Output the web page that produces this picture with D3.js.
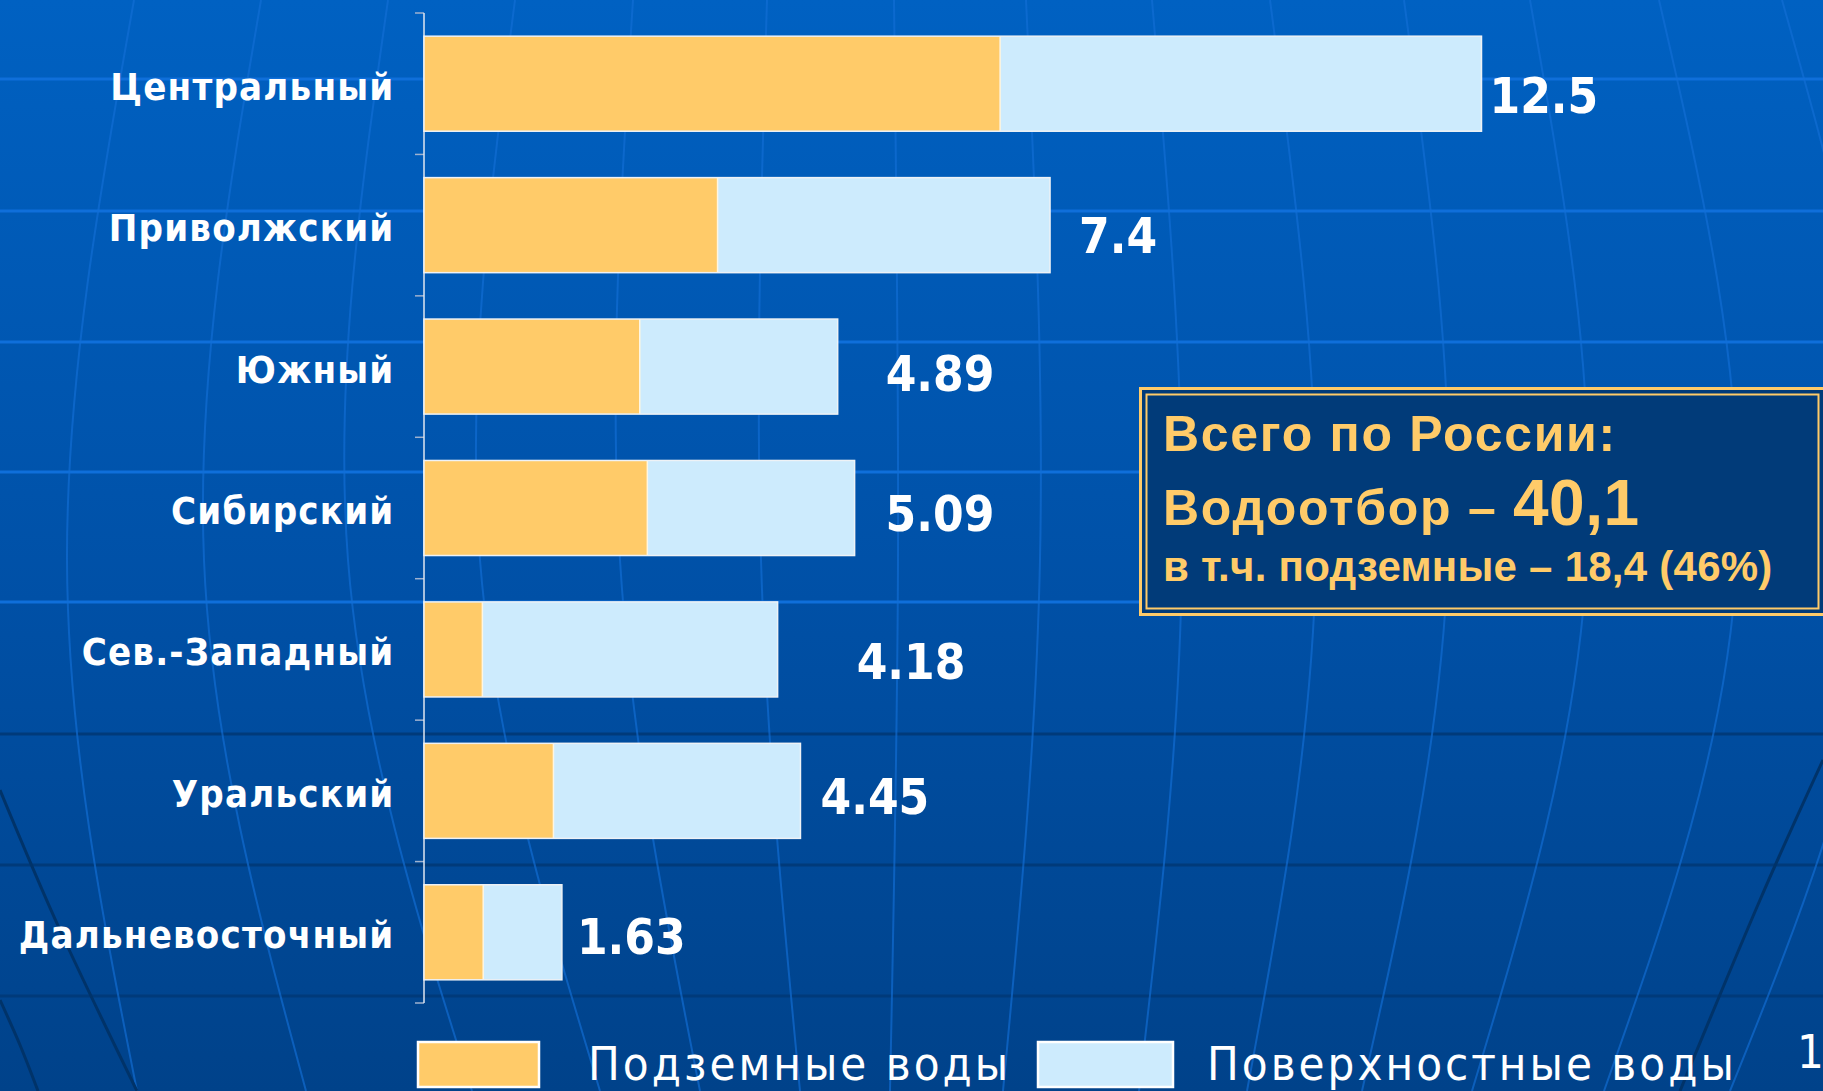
<!DOCTYPE html>
<html>
<head>
<meta charset="utf-8">
<script src="https://cdn.jsdelivr.net/npm/d3@7/dist/d3.min.js"></script>
<style>
  html, body { margin: 0; padding: 0; overflow: hidden; background: #0052a8; }
  svg { display: block; }
</style>
</head>
<body>
<svg id="chart" width="1823" height="1091"></svg>
<script>
// Water withdrawal by federal district, km³ per year
const regions = ["Центральный", "Приволжский", "Южный", "Сибирский", "Сев.-Западный", "Уральский", "Дальневосточный"];
const totalWithdrawal = [12.5, 7.4, 4.89, 5.09, 4.18, 4.45, 1.63];
const groundWater = [6.81, 3.47, 2.55, 2.64, 0.69, 1.53, 0.70];
const seriesNames = ["Подземные воды", "Поверхностные воды"];
const seriesColors = ["#ffcb69", "#cdebfd"];

// hand-placed value labels: shift from bar end (x) and from band centre (y)
const labelShiftX = [8, 29, 48, 31, 79, 20, 15];
const labelShiftY = [11, 10, 6, 5, 12, 5, 4];

const W = 1823, H = 1091;
const svg = d3.select("#chart");
const defs = svg.append("defs");

// ---- background: blue globe with parallels and meridians ----
const bg = defs.append("linearGradient").attr("id", "bg").attr("x1", 0).attr("y1", 0).attr("x2", 0).attr("y2", 1);
bg.append("stop").attr("offset", "0%").attr("stop-color", "#0061c2");
bg.append("stop").attr("offset", "55%").attr("stop-color", "#0050a6");
bg.append("stop").attr("offset", "100%").attr("stop-color", "#00428a");
svg.append("rect").attr("width", W).attr("height", H).attr("fill", "url(#bg)");

const deco = svg.append("g").attr("class", "globe");
const lightParallels = [79, 211, 342, 472, 602];
const darkParallels = [734, 865, 996];
deco.selectAll("line.lp").data(lightParallels).join("line")
  .attr("x1", 0).attr("x2", W).attr("y1", d => d).attr("y2", d => d)
  .attr("stroke", "#0f6fda").attr("stroke-width", 3);
deco.selectAll("line.dp").data(darkParallels).join("line")
  .attr("x1", 0).attr("x2", W).attr("y1", d => d).attr("y2", d => d)
  .attr("stroke", "#003a7a").attr("stroke-width", 3);

// meridians: x at top, at y=560 and at the bottom edge
const meridians = [
  [134, 67, 137], [261, 204, 306], [388, 348, 472], [515, 480, 600],
  [633, 620, 700], [767, 761, 800], [894, 898, 890], [1026, 1040, 1003],
  [1152, 1182, 1139], [1270, 1316, 1247], [1404, 1448, 1362], [1530, 1587, 1472],
  [1659, 1737, 1604], [1782, 1880, 1730]
];
const curve = d3.line().x(d => d[0]).y(d => d[1]).curve(d3.curveNatural);
deco.selectAll("path.mer").data(meridians).join("path")
  .attr("d", m => curve([[m[0], 0], [m[1], 560], [m[2], H]]))
  .attr("fill", "none").attr("stroke", "#126fd6").attr("stroke-width", 2).attr("stroke-opacity", 0.65);

// globe rim
const rims = [
  [[0, 790], [60, 930], [137, H]],
  [[0, 1000], [20, 1045], [38, H]],
  [[W, 760], [1760, 900], [1680, H]]
];
deco.selectAll("path.rim").data(rims).join("path")
  .attr("d", r => curve(r))
  .attr("fill", "none").attr("stroke", "#003369").attr("stroke-width", 3);

// ---- scales ----
const x = d3.scaleLinear().domain([0, 12.5]).range([424, 1481.5]);
const y = d3.scaleBand().domain(regions).range([13, 1003]).paddingInner(0.328).paddingOuter(0.164);

// ---- category axis ----
const axisG = svg.append("g").attr("transform", `translate(${x(0)},0)`);
const boundaries = d3.range(regions.length + 1).map(i => 13 + i * y.step());
axisG.selectAll("line.tick").data(boundaries).join("line")
  .attr("x1", -9).attr("x2", 0).attr("y1", d => d).attr("y2", d => d)
  .attr("stroke", "#9fb2cf").attr("stroke-width", 1.5);
axisG.append("line").attr("x1", 0).attr("x2", 0).attr("y1", 13).attr("y2", 1003)
  .attr("stroke", "#dfe6f0").attr("stroke-width", 1.5);

const sansCond = "'DejaVu Sans Condensed', 'DejaVu Sans', sans-serif";
svg.append("g").selectAll("text").data(regions).join("text")
  .attr("x", 394.5).attr("y", d => y(d) + y.bandwidth() / 2 + 16)
  .attr("text-anchor", "end")
  .attr("font-family", sansCond).attr("letter-spacing", 1.2)
  .attr("font-weight", "bold").attr("font-size", 38).attr("fill", "#ffffff")
  .text(d => d);

// ---- stacked bars ----
const rows = regions.map((r, i) => ({ region: r, ground: groundWater[i], total: totalWithdrawal[i], i }));
const barG = svg.append("g");
const row = barG.selectAll("g").data(rows).join("g");
row.append("rect")
  .attr("x", d => x(0)).attr("y", d => y(d.region))
  .attr("width", d => x(d.ground) - x(0)).attr("height", y.bandwidth())
  .attr("fill", seriesColors[0]);
row.append("rect")
  .attr("x", d => x(d.ground)).attr("y", d => y(d.region))
  .attr("width", d => x(d.total) - x(d.ground)).attr("height", y.bandwidth())
  .attr("fill", seriesColors[1]);
row.append("line")
  .attr("x1", d => x(d.ground)).attr("x2", d => x(d.ground))
  .attr("y1", d => y(d.region)).attr("y2", d => y(d.region) + y.bandwidth())
  .attr("stroke", "#fff6e0").attr("stroke-width", 1.5);
row.append("rect")
  .attr("x", d => x(0)).attr("y", d => y(d.region))
  .attr("width", d => x(d.total) - x(0)).attr("height", y.bandwidth())
  .attr("fill", "none").attr("stroke", "#eef2f6").attr("stroke-width", 1.5);

// value labels
row.append("text")
  .attr("x", d => x(d.total) + labelShiftX[d.i])
  .attr("y", d => y(d.region) + y.bandwidth() / 2 + labelShiftY[d.i] + 18)
  .attr("font-family", sansCond)
  .attr("font-weight", "bold").attr("font-size", 49).attr("fill", "#ffffff")
  .text(d => String(d.total));

// ---- summary box ----
const sumTotal = d3.sum(totalWithdrawal);
const sumGround = d3.sum(groundWater);
const comma = v => v.toFixed(1).replace(".", ",");
const box = svg.append("g");
box.append("rect").attr("x", 1140.5).attr("y", 388.5).attr("width", 690).attr("height", 226)
  .attr("fill", "#013b79").attr("stroke", "#ffcb69").attr("stroke-width", 3);
box.append("rect").attr("x", 1146.5).attr("y", 394.5).attr("width", 672).attr("height", 214)
  .attr("fill", "none").attr("stroke", "#ffcb69").attr("stroke-width", 2);
const boxFont = "'Liberation Sans', Arial, sans-serif";
box.append("text").attr("x", 1163).attr("y", 451)
  .attr("font-family", boxFont).attr("font-weight", "bold").attr("font-size", 50)
  .attr("letter-spacing", 1.7).attr("fill", "#ffcb69")
  .text("Всего по России:");
const l2 = box.append("text").attr("x", 1163).attr("y", 525)
  .attr("font-family", boxFont).attr("font-weight", "bold").attr("fill", "#ffcb69");
l2.append("tspan").attr("font-size", 50).attr("letter-spacing", 1.7).text("Водоотбор – ");
l2.append("tspan").attr("font-size", 64).attr("letter-spacing", 0.5).text(comma(sumTotal));
box.append("text").attr("x", 1163).attr("y", 581)
  .attr("font-family", boxFont).attr("font-weight", "bold").attr("font-size", 42)
  .attr("letter-spacing", 0.25).attr("fill", "#ffcb69")
  .text(`в т.ч. подземные – ${comma(sumGround)} (${Math.round(sumGround / sumTotal * 100)}%)`);

// ---- legend ----
const legendItems = [
  { name: seriesNames[0], color: seriesColors[0], bx: 418, bw: 121, tx: 588 },
  { name: seriesNames[1], color: seriesColors[1], bx: 1038, bw: 135, tx: 1207 }
];
const lg = svg.append("g").selectAll("g").data(legendItems).join("g");
lg.append("rect").attr("x", d => d.bx).attr("y", 1042).attr("width", d => d.bw).attr("height", 45)
  .attr("fill", d => d.color).attr("stroke", "#ffffff").attr("stroke-width", 2.5);
lg.append("text").attr("x", d => d.tx).attr("y", 1080)
  .attr("font-family", sansCond).attr("letter-spacing", 3)
  .attr("font-size", 47).attr("fill", "#ffffff")
  .text(d => d.name);

// slide number
svg.append("text").attr("x", 1797).attr("y", 1068)
  .attr("font-family", sansCond)
  .attr("font-size", 47).attr("fill", "#ffffff").text("1");
</script>
</body>
</html>
